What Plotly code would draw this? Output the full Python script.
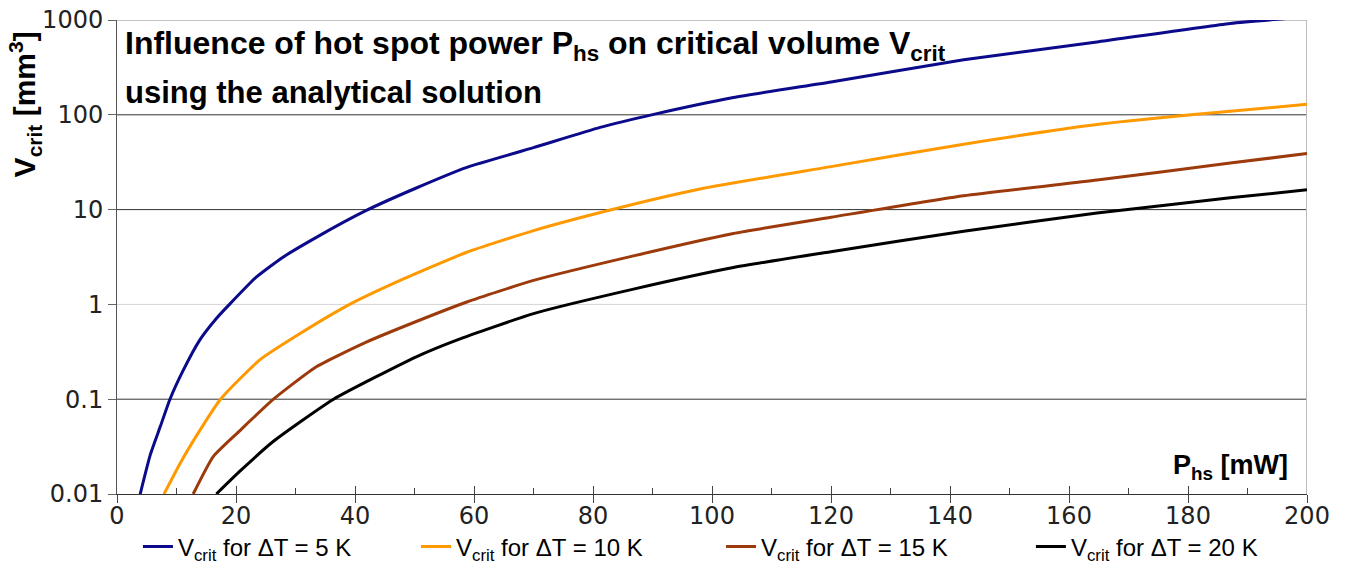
import plotly.graph_objects as go

# ---- data ----
p_5K = [3.9, 5.6, 7.3, 8.9, 11.1, 13.9, 16.7, 18.9, 23.4, 27.9, 33.5, 41.9, 50.3, 58.8, 70.0, 81.2, 90.2, 103.6, 120.0, 142.3, 165.0, 187.1, 200.0]
v_5K = [0.01, 0.026, 0.052, 0.1, 0.2, 0.42, 0.71, 1.0, 1.94, 3.15, 5.1, 9.8, 16.9, 27.9, 45, 73.6, 101, 152, 222, 380, 590, 920, 1080]

p_10K = [7.9, 10.6, 12.9, 17.4, 24.0, 30.7, 39.1, 47.6, 58.8, 70.0, 82.9, 98.0, 120.0, 142.3, 164.7, 180.5, 200.0]
v_10K = [0.01, 0.021, 0.037, 0.1, 0.26, 0.49, 1.0, 1.79, 3.55, 6.0, 9.9, 16.5, 28.4, 49, 79, 100, 129]

p_15K = [12.8, 16.2, 20.7, 26.3, 33.5, 41.9, 50.3, 58.8, 70.0, 86.8, 103.6, 120.0, 142.3, 164.7, 187.1, 200.0]
v_15K = [0.01, 0.025, 0.047, 0.1, 0.22, 0.40, 0.66, 1.06, 1.79, 3.25, 5.6, 8.3, 14, 20.5, 31, 39]

p_20K = [16.7, 20.7, 26.3, 36.4, 50.3, 57.1, 70.0, 86.8, 103.6, 120.0, 142.3, 164.7, 187.1, 200.0]
v_20K = [0.01, 0.0175, 0.036, 0.1, 0.28, 0.42, 0.80, 1.45, 2.45, 3.6, 5.9, 9.2, 13.3, 16.2]

series_names = ["V<sub>crit</sub> for ΔT = 5 K", "V<sub>crit</sub> for ΔT = 10 K",
                "V<sub>crit</sub> for ΔT = 15 K", "V<sub>crit</sub> for ΔT = 20 K"]
series_colors = ["#0a0a8a", "#ff9900", "#9c3a0c", "#000000"]

y_tickvals = [0.01, 0.1, 1, 10, 100, 1000]
y_ticktext = ["0.01", "0.1", "1", "10", "100", "1000"]
x_tickvals = [0, 20, 40, 60, 80, 100, 120, 140, 160, 180, 200]

legend_ids = ["legend", "legend2", "legend3", "legend4"]
legend_x = [0.0176, 0.2513, 0.5076, 0.768]

fig = go.Figure()
for px, pv, name, col, lg in zip([p_5K, p_10K, p_15K, p_20K], [v_5K, v_10K, v_15K, v_20K],
                                 series_names, series_colors, legend_ids):
    fig.add_trace(go.Scatter(x=px, y=pv, mode="lines", name=name, legend=lg,
                             line=dict(color=col, width=3, shape="spline", smoothing=0.5)))

# invisible helper trace on an overlaid x axis that carries the outer halves of the major ticks
fig.add_trace(go.Scatter(x=[0, 200], y=[0.01, 0.01], xaxis="x2", mode="lines",
                         line=dict(width=0), hoverinfo="skip", showlegend=False))

# horizontal grid lines with individual shades
grid_cols = {0.1: "#333333", 1: "#d4d4d4", 10: "#333333", 100: "#333333", 1000: "#888888"}
for gv, gc in grid_cols.items():
    fig.add_shape(type="line", xref="paper", x0=0, x1=1, yref="y", y0=gv, y1=gv,
                  line=dict(color=gc, width=1), layer="below")
# right border
fig.add_shape(type="line", xref="x", x0=200, x1=200, yref="paper", y0=0, y1=1,
              line=dict(color="#bdbdbd", width=2), layer="below")

tick_font = dict(family="DejaVu Sans", size=24, color="#222222")
fig.update_xaxes(range=[0, 200], tickvals=x_tickvals, ticks="inside", ticklen=8,
                 tickcolor="#444444", showline=True, linecolor="#333333", linewidth=1,
                 showgrid=False, zeroline=False, tickfont=tick_font,
                 minor=dict(dtick=10, ticks="inside", ticklen=6, tickcolor="#444444"))
fig.update_yaxes(type="log", range=[-2, 3], tickvals=y_tickvals, ticktext=y_ticktext,
                 ticks="outside", ticklen=8, tickcolor="#666666", showline=True,
                 linecolor="#555555", linewidth=1, showgrid=False, zeroline=False,
                 tickfont=tick_font)

bold = dict(family="Liberation Sans", size=31, color="#000000")
fig.add_annotation(xref="paper", yref="paper", x=0.005, y=0.947, xanchor="left", yanchor="middle",
                   text="<b>Influence of hot spot power P<sub>hs</sub> on critical volume V<sub>crit</sub></b>",
                   showarrow=False, font=dict(family="Liberation Sans", size=32, color="#000000"))
fig.add_annotation(xref="paper", yref="paper", x=0.005, y=0.848, xanchor="left", yanchor="middle",
                   text="<b>using the analytical solution</b>", showarrow=False, font=bold)
fig.add_annotation(xref="paper", yref="paper", x=0.9857, y=0.057, xanchor="right", yanchor="middle",
                   text="<b>P<sub>hs</sub> [mW]</b>", showarrow=False,
                   font=dict(family="Liberation Sans", size=27, color="#000000"))
fig.add_annotation(xref="paper", yref="paper", x=-0.0773, y=0.822, xanchor="center", yanchor="middle",
                   text="<b>V<sub>crit</sub> [mm<sup>3</sup>]</b>", textangle=-90, showarrow=False,
                   font=dict(family="Liberation Sans", size=30, color="#000000"))

leg_common = dict(orientation="h", y=-0.064, xanchor="left", yanchor="top",
                  font=dict(family="Liberation Sans", size=24, color="#000000"),
                  bgcolor="rgba(0,0,0,0)")
fig.update_layout(
    width=1350, height=569,
    margin=dict(l=117, r=43, t=20, b=75, autoexpand=False),
    paper_bgcolor="white", plot_bgcolor="white",
    showlegend=True,
    xaxis2=dict(overlaying="x", anchor="y", side="bottom", range=[0, 200], tickvals=x_tickvals,
                ticks="outside", ticklen=8, tickcolor="#444444", showticklabels=False,
                showline=False, showgrid=False, zeroline=False),
    legend=dict(x=legend_x[0], **leg_common),
    legend2=dict(x=legend_x[1], **leg_common),
    legend3=dict(x=legend_x[2], **leg_common),
    legend4=dict(x=legend_x[3], **leg_common),
)

fig.write_html("out.html")
